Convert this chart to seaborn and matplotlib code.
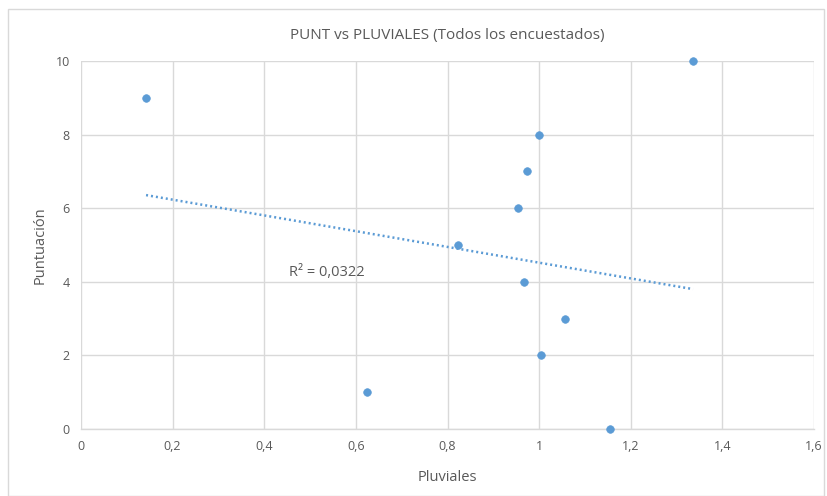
import matplotlib
matplotlib.use("Agg")
import matplotlib.pyplot as plt
import seaborn as sns
import numpy as np
import pandas as pd

# Data
pluviales = [0.142, 0.625, 0.824, 0.953, 0.973, 0.968, 0.999, 1.005, 1.056, 1.154, 1.336]
puntuacion = [9, 1, 5, 6, 7, 4, 8, 2, 3, 0, 10]
# Linear trendline (as displayed)
trend_x = [0.142, 1.336]
trend_slope = -2.14
trend_intercept = 6.66
r2_label = "R² = 0,0322"
x_ticks = [0, 0.2, 0.4, 0.6, 0.8, 1.0, 1.2, 1.4, 1.6]
x_tick_labels = ["0", "0,2", "0,4", "0,6", "0,8", "1", "1,2", "1,4", "1,6"]
y_ticks = [0, 2, 4, 6, 8, 10]
y_tick_labels = ["0", "2", "4", "6", "8", "10"]
title = "PUNT vs PLUVIALES (Todos los encuestados)"

sns.set_theme(style="white")
plt.rcParams['font.family'] = ['Open Sans', 'DejaVu Sans']

blue = "#5B9BD5"
gray_text = "#595959"
grid_c = "#D9D9D9"

fig = plt.figure(figsize=(8.28, 4.96), dpi=100)
ax = fig.add_axes([81/828, 1 - 429/496, (814 - 81)/828, (429 - 61)/496])

df = pd.DataFrame({"Pluviales": pluviales, "Puntuación": puntuacion})
tx = np.array(trend_x)
tdf = pd.DataFrame({"x": tx, "y": trend_slope * tx + trend_intercept})

sns.lineplot(data=tdf, x="x", y="y", ax=ax, color=blue, linewidth=1.8,
             linestyle=(0, (0.8, 1.2)), zorder=2)
sns.scatterplot(data=df, x="Pluviales", y="Puntuación", ax=ax, color=blue,
                s=30, edgecolor=blue, linewidth=0.5, zorder=3, clip_on=False)

ax.set_xlim(0, 1.6)
ax.set_ylim(0, 10)
ax.set_xticks(x_ticks)
ax.set_xticklabels(x_tick_labels)
ax.set_yticks(y_ticks)
ax.set_yticklabels(y_tick_labels)
ax.tick_params(axis="both", length=0, labelsize=9, labelcolor=gray_text, pad=8)
ax.grid(True, color=grid_c, linewidth=1)
ax.set_axisbelow(True)
for side in ["top", "right", "left"]:
    ax.spines[side].set_visible(False)
ax.spines["bottom"].set_color(grid_c)
ax.spines["bottom"].set_linewidth(1)

ax.set_xlabel("Pluviales", fontsize=10.5, color=gray_text, labelpad=12)
ax.set_ylabel("Puntuación", fontsize=10.5, color=gray_text, labelpad=6)
ax.set_title(title, fontsize=11, color=gray_text, pad=16)

ax.text(0.455, 4.15, r2_label, fontsize=10.5, color=gray_text, transform=ax.transData)

# chart border
fig.patches.append(plt.Rectangle((8/828, 0.0), (824 - 8)/828, (487)/496,
                                 transform=fig.transFigure, fill=False,
                                 edgecolor="#D9D9D9", linewidth=1))

fig.savefig("out.png", dpi=100)
